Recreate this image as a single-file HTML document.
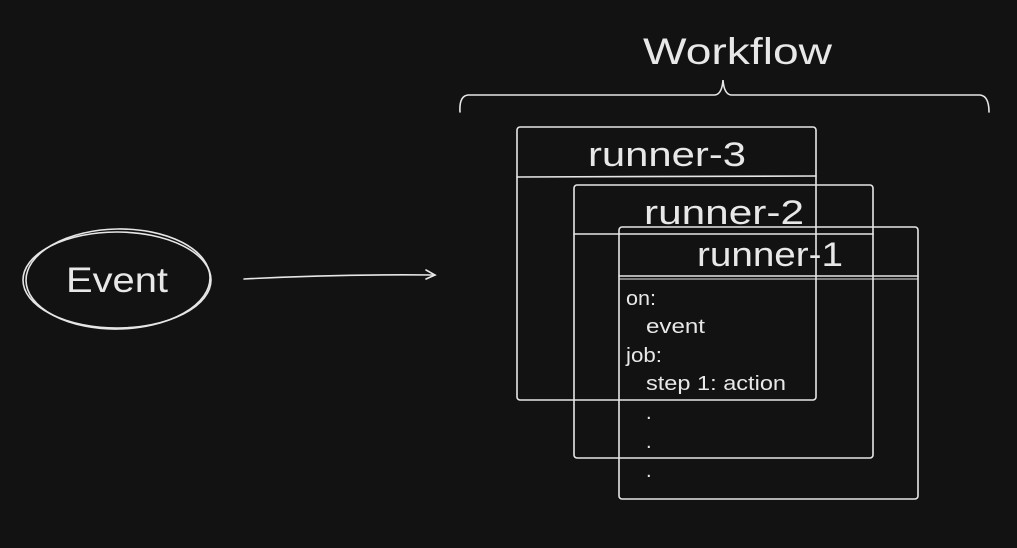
<!DOCTYPE html>
<html><head><meta charset="utf-8"><style>
html,body{margin:0;padding:0;background:#121212;}
svg{display:block;}
text{font-family:"Liberation Sans",sans-serif;fill:#e8e8e8;}
</style></head><body>
<svg width="1017" height="548" viewBox="0 0 1017 548" xmlns="http://www.w3.org/2000/svg">
<rect width="1017" height="548" fill="#121212"/>
<g fill="none" stroke="#e6e6e6" stroke-width="1.6" stroke-linecap="round">
<path d="M460 112 Q459 96 468 95 L715 95 Q722 94 723 80 Q724 94 731 95 L980 95 Q989 96 989 112"/>
<ellipse cx="117" cy="280" rx="94" ry="48"/>
<ellipse cx="118" cy="279" rx="92" ry="50" transform="rotate(-1 118 279)"/>
<path d="M244 279 Q340 274 435 275"/>
<path d="M426 270 L435 275 L426 279"/>
<rect x="517" y="127" width="299" height="273" rx="3"/>
<path d="M517 177 L816 176"/>
<rect x="574" y="185" width="299" height="273" rx="3"/>
<path d="M574 234 L873 234"/>
<rect x="619" y="227" width="299" height="272" rx="3"/>
<path d="M619 276 L918 276"/>
<path d="M620 279 L917 279" stroke-width="1"/>
</g>
<text x="643" y="64" font-size="37" textLength="189" lengthAdjust="spacingAndGlyphs">Workflow</text>
<text x="66" y="292" font-size="35" textLength="102" lengthAdjust="spacingAndGlyphs">Event</text>
<text x="588" y="166" font-size="34" textLength="158" lengthAdjust="spacingAndGlyphs">runner-3</text>
<text x="644" y="224" font-size="34" textLength="160" lengthAdjust="spacingAndGlyphs">runner-2</text>
<text x="697" y="266" font-size="34" textLength="146" lengthAdjust="spacingAndGlyphs">runner-1</text>
<g font-size="20">
<text x="626" y="305" textLength="30" lengthAdjust="spacingAndGlyphs">on:</text>
<text x="646" y="333" textLength="59" lengthAdjust="spacingAndGlyphs">event</text>
<text x="626" y="362" textLength="36" lengthAdjust="spacingAndGlyphs">job:</text>
<text x="646" y="390" textLength="140" lengthAdjust="spacingAndGlyphs">step 1: action</text>
<text x="646" y="419">.</text>
<text x="646" y="448">.</text>
<text x="646" y="477">.</text>
</g>
</svg>
</body></html>
